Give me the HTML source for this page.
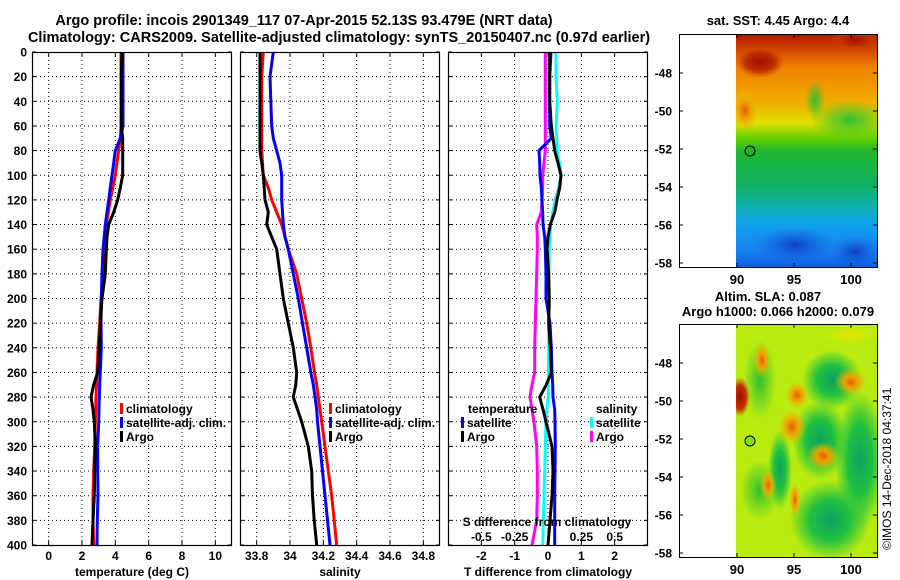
<!DOCTYPE html>
<html><head><meta charset="utf-8">
<style>
html,body{margin:0;padding:0;background:#fff;}
svg{display:block;font-family:"Liberation Sans",sans-serif;font-weight:bold;}
</style></head>
<body>
<svg id="fig" width="900" height="580" viewBox="0 0 900 580" xmlns="http://www.w3.org/2000/svg">
<defs>
<linearGradient id="sstg" x1="0" y1="0" x2="0" y2="1">
<stop offset="0" stop-color="#b01400"/>
<stop offset="0.06" stop-color="#d04000"/>
<stop offset="0.14" stop-color="#f08000"/>
<stop offset="0.3" stop-color="#f0b000"/>
<stop offset="0.38" stop-color="#e0e000"/>
<stop offset="0.45" stop-color="#60d000"/>
<stop offset="0.5" stop-color="#20b830"/>
<stop offset="0.65" stop-color="#10b060"/>
<stop offset="0.74" stop-color="#10b0b0"/>
<stop offset="0.82" stop-color="#10a0f0"/>
<stop offset="0.93" stop-color="#1880f0"/>
<stop offset="1" stop-color="#1060e0"/>
</linearGradient>
<radialGradient id="blobO"><stop offset="0" stop-color="#e06000"/><stop offset="0.4" stop-color="#f0a000"/><stop offset="1" stop-color="#f0c000" stop-opacity="0"/></radialGradient>
<radialGradient id="blobG"><stop offset="0" stop-color="#10a060"/><stop offset="0.5" stop-color="#20c040"/><stop offset="1" stop-color="#20c040" stop-opacity="0"/></radialGradient>
<radialGradient id="blobY"><stop offset="0" stop-color="#f0e000"/><stop offset="1" stop-color="#d0f000" stop-opacity="0"/></radialGradient>
<radialGradient id="blobR"><stop offset="0" stop-color="#a01000"/><stop offset="0.6" stop-color="#c03000"/><stop offset="1" stop-color="#d05000" stop-opacity="0"/></radialGradient>
<radialGradient id="blobGr"><stop offset="0" stop-color="#30c030"/><stop offset="1" stop-color="#30c030" stop-opacity="0"/></radialGradient>
<radialGradient id="blobB"><stop offset="0" stop-color="#1040c0"/><stop offset="1" stop-color="#1060e0" stop-opacity="0"/></radialGradient>
<clipPath id="clipTop"><rect x="736" y="34" width="141" height="233"/></clipPath>
<clipPath id="clipBot"><rect x="736" y="324" width="141" height="233"/></clipPath>
</defs>

<text x="304" y="25" font-size="14.5" text-anchor="middle">Argo profile: incois 2901349_117 07-Apr-2015 52.13S 93.479E (NRT data)</text>
<text x="339" y="42" font-size="14.5" text-anchor="middle">Climatology: CARS2009. Satellite-adjusted climatology: synTS_20150407.nc (0.97d earlier)</text>

<g id="panels"></g>

<!-- SST map -->
<g>
<text x="778" y="25" font-size="13" text-anchor="middle">sat. SST: 4.45 Argo: 4.4</text>
<g clip-path="url(#clipTop)">
<rect x="736" y="34" width="141" height="233" fill="url(#sstg)"/>
<ellipse cx="760" cy="62" rx="25" ry="16" fill="url(#blobR)"/>
<ellipse cx="855" cy="40" rx="25" ry="10" fill="url(#blobR)"/>
<ellipse cx="745" cy="110" rx="14" ry="22" fill="url(#blobO)"/>
<ellipse cx="850" cy="120" rx="40" ry="20" fill="url(#blobGr)"/>
<ellipse cx="815" cy="100" rx="10" ry="20" fill="url(#blobGr)"/>
<ellipse cx="795" cy="245" rx="40" ry="18" fill="url(#blobB)"/>
<ellipse cx="855" cy="252" rx="25" ry="16" fill="url(#blobB)"/>
</g>
<circle cx="750" cy="151" r="5" fill="#20b020" stroke="#000" stroke-width="1"/>
<rect x="679.5" y="34.5" width="198" height="233" fill="none" stroke="#000"/>
</g>

<!-- SLA map -->
<g>
<text x="768" y="301" font-size="13" text-anchor="middle">Altim. SLA: 0.087</text>
<text x="778" y="316" font-size="13" text-anchor="middle">Argo h1000: 0.066 h2000: 0.079</text>
<g clip-path="url(#clipBot)">
<rect x="736" y="324" width="141" height="233" fill="#b8ec10"/>
<ellipse cx="760" cy="380" rx="16" ry="40" fill="url(#blobGr)"/>
<ellipse cx="832" cy="380" rx="30" ry="30" fill="url(#blobG)"/>
<ellipse cx="820" cy="440" rx="28" ry="40" fill="url(#blobG)"/>
<ellipse cx="860" cy="460" rx="25" ry="70" fill="url(#blobG)"/>
<ellipse cx="830" cy="520" rx="40" ry="40" fill="url(#blobG)"/>
<ellipse cx="780" cy="470" rx="12" ry="40" fill="url(#blobG)"/>
<ellipse cx="760" cy="490" rx="20" ry="30" fill="url(#blobGr)"/>
<ellipse cx="762" cy="360" rx="9" ry="18" fill="url(#blobO)"/>
<ellipse cx="740" cy="397" rx="10" ry="20" fill="url(#blobR)"/>
<ellipse cx="797" cy="395" rx="12" ry="14" fill="url(#blobO)"/>
<ellipse cx="792" cy="427" rx="14" ry="18" fill="url(#blobO)"/>
<ellipse cx="823" cy="456" rx="16" ry="14" fill="url(#blobO)"/>
<ellipse cx="851" cy="382" rx="16" ry="14" fill="url(#blobO)"/>
<ellipse cx="768" cy="485" rx="8" ry="16" fill="url(#blobO)"/>
<ellipse cx="795" cy="500" rx="6" ry="18" fill="url(#blobO)"/>
<ellipse cx="850" cy="335" rx="30" ry="10" fill="url(#blobY)"/>
</g>
<circle cx="750" cy="441" r="5" fill="#80e000" stroke="#000" stroke-width="1"/>
<rect x="679.5" y="324.5" width="198" height="233" fill="none" stroke="#000"/>
</g>
<g id="maptick"></g>
<text transform="translate(891,550) rotate(-90)" font-size="12" font-weight="normal">©IMOS 14-Dec-2018 04:37:41</text>
</svg>

<script>
// ---- data ----
const depths = [0,20,40,60,70,80,90,100,110,120,130,140,150,160,180,200,220,240,260,270,280,290,300,320,340,360,380,400];
const tempClim = [4.34,4.34,4.34,4.34,4.3,4.2,4.1,4.0,3.85,3.7,3.58,3.46,3.43,3.4,3.3,3.14,3.06,2.96,2.9,2.87,2.84,2.82,2.8,2.76,2.7,2.66,2.66,2.7];
const tempSat = [4.46,4.46,4.46,4.46,4.3,4.0,3.9,3.8,3.7,3.6,3.5,3.4,3.33,3.26,3.2,3.16,3.14,3.16,3.1,3.06,3.04,3.02,3.0,2.94,2.94,2.96,2.92,2.9];
const tempArgo = [4.4,4.36,4.36,4.36,4.44,4.44,4.44,4.44,4.3,4.14,3.9,3.6,3.5,3.46,3.4,3.2,3.1,3.04,2.94,2.7,2.54,2.66,2.74,2.8,2.76,2.74,2.66,2.6];
const salClim = [33.84,33.83,33.83,33.83,33.83,33.83,33.835,33.84,33.87,33.89,33.92,33.95,33.97,33.99,34.04,34.07,34.10,34.125,34.147,34.16,34.17,34.18,34.19,34.21,34.23,34.25,34.265,34.28];
const salSat = [33.9,33.88,33.885,33.89,33.9,33.92,33.94,33.95,33.95,33.95,33.955,33.96,33.97,33.99,34.02,34.05,34.075,34.10,34.125,34.14,34.15,34.16,34.165,34.18,34.195,34.21,34.225,34.24];
const salArgo = [33.82,33.82,33.82,33.82,33.82,33.82,33.83,33.84,33.845,33.85,33.87,33.86,33.89,33.92,33.94,33.96,33.99,34.02,34.04,34.035,34.02,34.045,34.07,34.11,34.13,34.135,34.145,34.16];
const dTempSat = [0.09,0.05,0.05,0.05,0.1,-0.27,-0.25,-0.24,-0.2,-0.18,-0.16,-0.15,-0.1,-0.08,-0.06,-0.06,0.06,0.1,0.12,0.14,0.15,0.2,0.21,0.22,0.21,0.2,0.2,0.2];
const dTempArgo = [0.05,0.05,0.05,0.1,0.15,0.2,0.3,0.39,0.35,0.27,0.2,0.07,0.0,-0.03,0.02,0.04,0.02,0.07,0.1,-0.05,-0.25,-0.15,-0.06,0.12,0.15,0.12,0.06,0.0];
const dSalSat = [0.06,0.06,0.07,0.06,0.065,0.07,0.085,0.1,0.08,0.055,0.035,0.02,0.015,0.01,0.005,0.0,0.005,0.005,0.002,0.002,0.002,-0.01,-0.015,-0.02,-0.025,-0.03,-0.035,-0.04];
const dSalArgo = [-0.02,-0.02,-0.02,-0.02,-0.02,-0.02,-0.03,-0.04,-0.04,-0.045,-0.05,-0.085,-0.08,-0.08,-0.085,-0.09,-0.095,-0.1,-0.1,-0.12,-0.135,-0.12,-0.105,-0.085,-0.08,-0.08,-0.085,-0.12];
const depthTicks = [0,20,40,60,80,100,120,140,160,180,200,220,240,260,280,300,320,340,360,380,400];
const tempTicks = [0,2,4,6,8,10];
const salTicks = [33.8,34,34.2,34.4,34.6,34.8];
const dTempTicks = [-2,-1,0,1,2];
const dSalTicks = [-0.5,-0.25,0.25,0.5];
const dSalTickLabels = ["-0.5","-0.25","0.25","0.5"];
const latTicks = [-48,-50,-52,-54,-56,-58];
const lonTicks = [90,95,100];

const NS = "http://www.w3.org/2000/svg";
const root = document.getElementById('panels');
const Y0 = 52, Y1 = 545;
const yScale = d => Y0 + (d/400)*(Y1-Y0);
function mk(tag, attrs, parent){
  const e = document.createElementNS(NS, tag);
  for (const k in attrs) e.setAttribute(k, attrs[k]);
  (parent||root).appendChild(e);
  return e;
}
function linScale(d0,d1,r0,r1){ return v => r0 + (v-d0)/(d1-d0)*(r1-r0); }

function panel(x0, xs, ticks, labels, name, xlabel, showY){
  const g = mk('g', {});
  
  
  ticks.forEach((t)=>{
    const x = xs(t);
    const l = mk('line',{x1:x,x2:x,y1:Y0,y2:Y1,stroke:'#000','stroke-width':1,'stroke-dasharray':'1,3'},g);
    
    
    mk('line',{x1:x,x2:x,y1:Y1,y2:Y1-4,stroke:'#000'},g);
    mk('line',{x1:x,x2:x,y1:Y0,y2:Y0+4,stroke:'#000'},g);
  });
  depthTicks.forEach(d=>{
    const y = yScale(d);
    if (d>0 && d<400) {
      const l = mk('line',{x1:x0,x2:x0+200,y1:y,y2:y,stroke:'#000','stroke-width':1,'stroke-dasharray':'1,3'},g);
      
      
    }
    mk('line',{x1:x0,x2:x0+4,y1:y,y2:y,stroke:'#000'},g);
    mk('line',{x1:x0+200,x2:x0+196,y1:y,y2:y,stroke:'#000'},g);
    if (showY){
      const t = mk('text',{x:x0-5,y:y+4.5,'font-size':12,'text-anchor':'end'},g);
      t.textContent = d;
      
      
    }
  });
  labels.forEach((lb,i)=>{
    const t = mk('text',{x:xs(ticks[i]),y:560,'font-size':12,'text-anchor':'middle'},g);
    t.textContent = lb;
    
    
  });
  const xl = mk('text',{x:x0+100,y:576,'font-size':12,'text-anchor':'middle'},g);
  xl.textContent = xlabel;
  
  
  return g;
}
function frame(x0, g){
  const r = mk('rect',{x:x0+0.5,y:Y0+0.5,width:199,height:Y1-Y0,fill:'none',stroke:'#000','stroke-width':1.2},g);
  
  
}
function series(g, xs, vals, color, name){
  const pts = vals.map((v,i)=> xs(v).toFixed(1)+','+yScale(depths[i]).toFixed(1)).join(' ');
  const p = mk('polyline',{points:pts,fill:'none',stroke:color,'stroke-width':3,'stroke-linejoin':'miter'},g);
  
  
}
function legend(g, x, y, entries){
  entries.forEach((e,i)=>{
    const yy = y + i*14;
    if (e.c) mk('rect',{x:x,y:yy-10,width:3,height:11,fill:e.c},g);
    const t = mk('text',{x:x+(e.c?6:0),y:yy,'font-size':12},g);
    t.textContent = e.t;
    
    
  });
}

const xT = linScale(-1,11,32,232);
const g1 = panel(32, xT, tempTicks, tempTicks.map(String), 'temperature-panel', 'temperature (deg C)', true);
series(g1, xT, tempClim, '#ff0000', 'temp-climatology-line');
series(g1, xT, tempSat, '#0000ff', 'temp-satellite-line');
series(g1, xT, tempArgo, '#000000', 'temp-argo-line');
legend(g1, 120, 413, [{c:'#ff0000',t:'climatology'},{c:'#0000ff',t:'satellite-adj. clim.'},{c:'#000',t:'Argo'}]);
frame(32, g1);

const xS = linScale(33.7,34.9,240,440);
const g2 = panel(240, xS, salTicks, salTicks.map(v=>String(v)), 'salinity-panel', 'salinity', false);
series(g2, xS, salClim, '#ff0000', 'sal-climatology-line');
series(g2, xS, salSat, '#0000ff', 'sal-satellite-line');
series(g2, xS, salArgo, '#000000', 'sal-argo-line');
legend(g2, 329, 413, [{c:'#ff0000',t:'climatology'},{c:'#0000ff',t:'satellite-adj. clim.'},{c:'#000',t:'Argo'}]);
frame(240, g2);

const xD = linScale(-3,3,448,648);
const xDS = linScale(-0.75,0.75,448,648);
const g3 = panel(448, xD, dTempTicks, dTempTicks.map(String), 'difference-panel', 'T difference from climatology', false);
series(g3, xDS, dSalArgo, '#ff00ff', 'sal-diff-argo-line');
series(g3, xDS, dSalSat, '#00ffff', 'sal-diff-satellite-line');
series(g3, xD, dTempSat, '#0000ff', 'temp-diff-satellite-line');
series(g3, xD, dTempArgo, '#000000', 'temp-diff-argo-line');
legend(g3, 468, 413, [{t:'temperature'}]);
legend(g3, 461, 427, [{c:'#0000ff',t:'satellite'},{c:'#000',t:'Argo'}]);
legend(g3, 596, 413, [{t:'salinity'}]);
legend(g3, 590, 427, [{c:'#00ffff',t:'satellite'},{c:'#ff00ff',t:'Argo'}]);
const st = mk('text',{x:547,y:526,'font-size':12,'text-anchor':'middle'},g3);
st.textContent = 'S difference from climatology';


dSalTicks.forEach((v,i)=>{
  const t = mk('text',{x:xDS(v),y:541,'font-size':12,'text-anchor':'middle'},g3);
  t.textContent = dSalTickLabels[i];
  
  
});
frame(448, g3);

const mt = document.getElementById('maptick');
const latY = [linScale(-48,-58,73,263), linScale(-48,-58,363,553)];
const lonX = linScale(90,100,737,851);
[[34,267],[324,557]].forEach((b,k)=>{
  latTicks.forEach(l=>{
    const y = latY[k](l);
    mk('line',{x1:679,x2:683,y1:y,y2:y,stroke:'#000'},mt);
    mk('line',{x1:877,x2:873,y1:y,y2:y,stroke:'#000'},mt);
    const t = mk('text',{x:672,y:y+4.5,'font-size':12,'text-anchor':'end'},mt);
    t.textContent = l;
    
    
  });
  lonTicks.forEach(l=>{
    const x = lonX(l);
    mk('line',{x1:x,x2:x,y1:b[1],y2:b[1]-4,stroke:'#000'},mt);
    mk('line',{x1:x,x2:x,y1:b[0],y2:b[0]+4,stroke:'#000'},mt);
    const t = mk('text',{x:x,y:b[1]+17,'font-size':13,'text-anchor':'middle'},mt);
    t.textContent = l;
    
    
  });
});
</script>
</body></html>
